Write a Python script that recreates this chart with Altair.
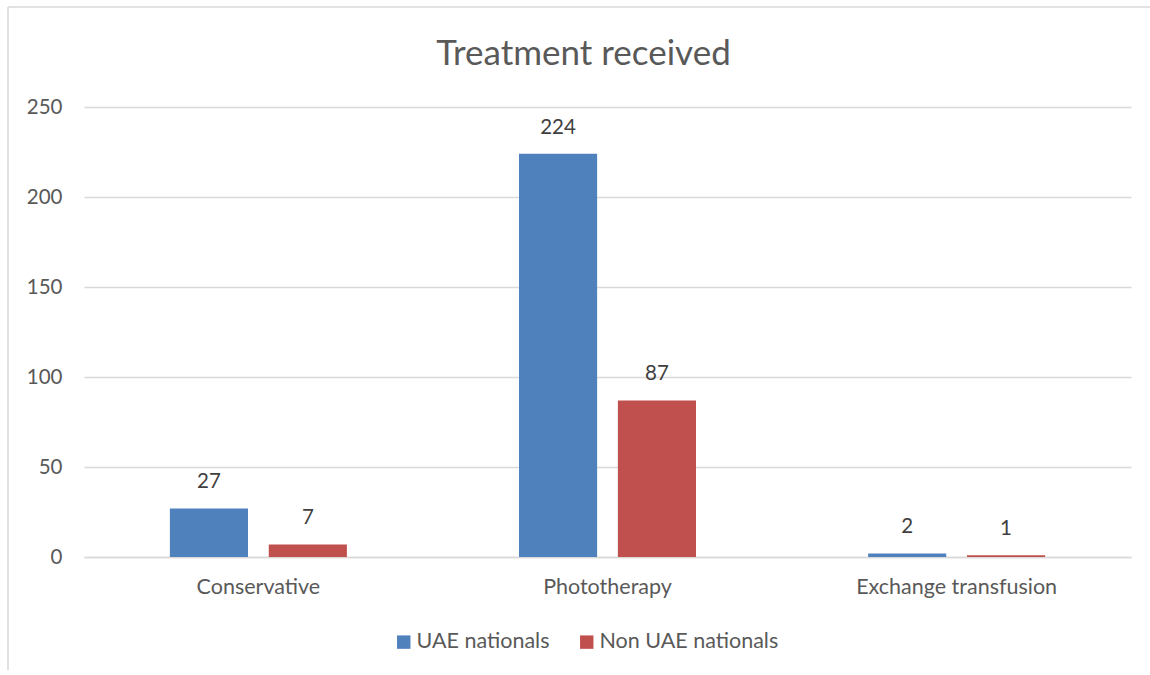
import altair as alt
import pandas as pd

categories = ["Conservative", "Phototherapy", "Exchange transfusion"]
series = ["UAE nationals", "Non UAE nationals"]
uae = [27, 224, 2]
non_uae = [7, 87, 1]
colors = ["#4F81BD", "#C0504D"]
title_text = "Treatment received"

rows = []
for c, a, b in zip(categories, uae, non_uae):
    rows.append({"cat": c, "series": series[0], "value": a})
    rows.append({"cat": c, "series": series[1], "value": b})
df = pd.DataFrame(rows)

FONT = "Lato"
GRAY = "#595959"

x_enc = alt.X("cat:N", sort=categories, title=None,
              scale=alt.Scale(paddingInner=0.493, paddingOuter=0.246),
              axis=alt.Axis(labelAngle=0, labelFontSize=21.5, labelColor=GRAY, labelFont=FONT,
                            labelPadding=19, labelLimit=0, ticks=False, domainColor="#D9D9D9",
                            domainWidth=1.5, grid=False))
xo_enc = alt.XOffset("series:N", sort=series, scale=alt.Scale(paddingInner=0.21, paddingOuter=0))
y_enc = alt.Y("value:Q", title=None,
              scale=alt.Scale(domain=[0, 250], nice=False),
              axis=alt.Axis(values=[0, 50, 100, 150, 200, 250], labelFontSize=20.5, labelColor=GRAY,
                            labelFont=FONT, labelPadding=22, ticks=False, domain=False,
                            gridColor="#D9D9D9", gridWidth=1.5))
color_enc = alt.Color("series:N", sort=series,
                      scale=alt.Scale(domain=series, range=colors),
                      legend=alt.Legend(title=None, orient="none", direction="horizontal",
                                        legendX=309, legendY=524, symbolType="square",
                                        symbolSize=180, symbolStrokeWidth=0, labelFontSize=21.5,
                                        labelFont=FONT, labelColor=GRAY, columnPadding=26,
                                        labelOffset=2, labelLimit=0))

base = alt.Chart(df)
bars = base.mark_bar().encode(x=x_enc, xOffset=xo_enc, y=y_enc, color=color_enc)
labels = base.mark_text(baseline="bottom", dy=-16, fontSize=20.5, font=FONT, color="#404040").encode(
    x=alt.X("cat:N", sort=categories), xOffset=alt.XOffset("series:N", sort=series),
    y="value:Q", text="value:Q")

one = pd.DataFrame({"t": [title_text]})
title = alt.Chart(one).mark_text(fontSize=35, font=FONT, color=GRAY, align="center",
                                 baseline="alphabetic").encode(
    x=alt.value(499.5), y=alt.value(-42), text="t:N")
left_border = alt.Chart(one).mark_rule(color="#D9D9D9", strokeWidth=1.5, clip=False).encode(
    x=alt.value(-76), y=alt.value(-100), y2=alt.value(563))
top_border = alt.Chart(one).mark_rule(color="#D9D9D9", strokeWidth=1.5, clip=False).encode(
    x=alt.value(-76), x2=alt.value(1080), y=alt.value(-100))

chart = alt.layer(bars, labels, title, left_border, top_border).properties(
    width=1047, height=450,
    autosize=alt.AutoSizeParams(type="none"),
    padding={"left": 84, "top": 107, "right": 19, "bottom": 118},
).configure(background="white").configure_view(stroke=None)

chart.save("out.html", embed_options={"renderer": "svg", "actions": False})
